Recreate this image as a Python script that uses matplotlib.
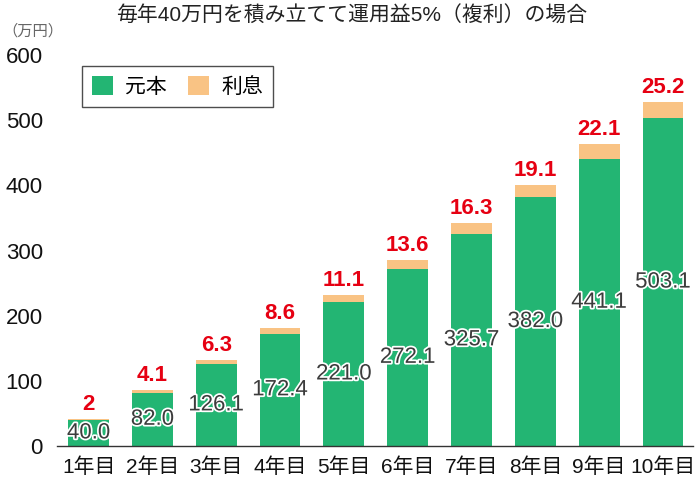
import matplotlib
matplotlib.use("Agg")
import matplotlib.pyplot as plt
import matplotlib.patheffects as pe
import numpy as np

plt.rcParams['font.family'] = ['Liberation Sans', 'Noto Sans CJK JP', 'DejaVu Sans']

categories = ["1年目", "2年目", "3年目", "4年目", "5年目", "6年目", "7年目", "8年目", "9年目", "10年目"]
principal = [40.0, 82.0, 126.1, 172.4, 221.0, 272.1, 325.7, 382.0, 441.1, 503.1]
interest = [2, 4.1, 6.3, 8.6, 11.1, 13.6, 16.3, 19.1, 22.1, 25.2]
interest_labels = ["2", "4.1", "6.3", "8.6", "11.1", "13.6", "16.3", "19.1", "22.1", "25.2"]

green = "#23B573"
orange = "#F9C384"

fig = plt.figure(figsize=(7, 4.8), dpi=100)
ax = fig.add_axes([0.081, 0.0708, 0.909, 0.8146])

x = np.arange(len(categories))
w = 0.64
ax.bar(x, principal, w, color=green, label="元本", zorder=2)
ax.bar(x, interest, w, bottom=principal, color=orange, label="利息", zorder=2)

for xi, p, it, lab in zip(x, principal, interest, interest_labels):
    ax.text(xi, p / 2, f"{p:.1f}", ha="center", va="center", fontsize=16,
            color="#3c3c3c", zorder=3,
            path_effects=[pe.withStroke(linewidth=2.5, foreground="white")])
    ax.text(xi, p + it + 6, lab, ha="center", va="bottom", fontsize=16,
            color="#E60012", fontweight="bold", zorder=3)

ax.set_xlim(-0.5, 9.47)
ax.set_ylim(0, 600)
ax.set_yticks([0, 100, 200, 300, 400, 500, 600])
ax.set_xticks(x)
ax.set_xticklabels(categories, fontsize=15)
ax.tick_params(axis="y", labelsize=16, length=0, pad=10, colors="#111111")
ax.tick_params(axis="x", length=0, pad=8, colors="#111111")
for s in ["top", "right", "left"]:
    ax.spines[s].set_visible(False)
ax.spines["bottom"].set_color("#333333")
ax.spines["bottom"].set_linewidth(1.0)

leg = ax.legend(loc="upper left", bbox_to_anchor=(0.039, 0.972), ncol=2,
                fontsize=15, frameon=True, fancybox=False, edgecolor="#222222",
                handlelength=1.0, handleheight=1.0, columnspacing=1.0,
                handletextpad=0.6, borderpad=0.5, borderaxespad=0)
leg.get_frame().set_linewidth(1.0)

fig.text(0.503, 0.968, "毎年40万円を積み立てて運用益5%（複利）の場合", ha="center", va="center",
         fontsize=15, color="#222222")
fig.text(0.004, 0.935, "（万円）", ha="left", va="center", fontsize=11, color="#666666")

fig.savefig("out.png", dpi=100)
